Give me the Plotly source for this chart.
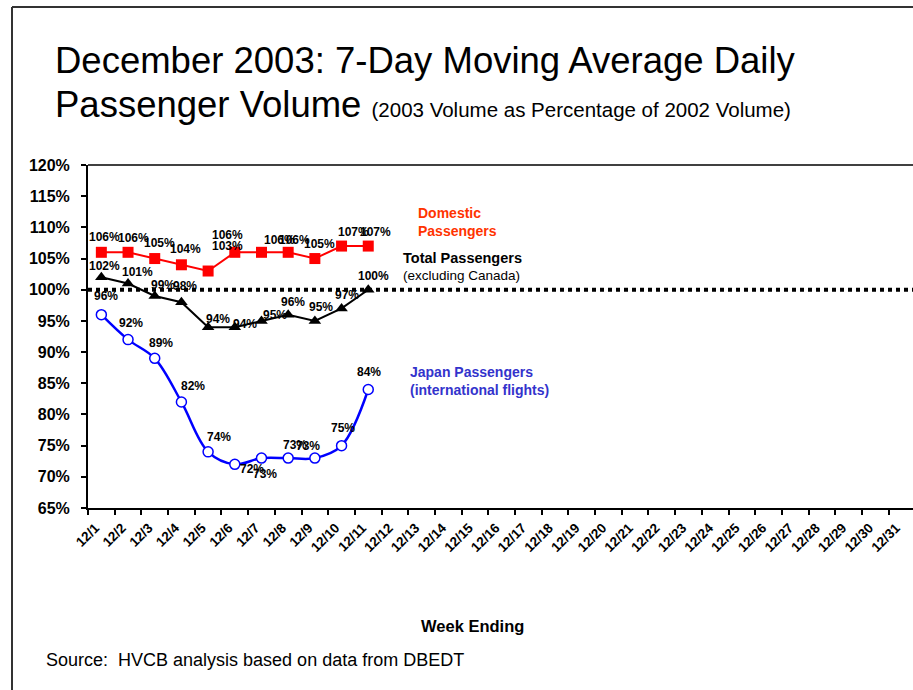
import plotly.graph_objects as go

# ---------------- data ----------------
days = ["12/1", "12/2", "12/3", "12/4", "12/5", "12/6", "12/7", "12/8", "12/9", "12/10",
        "12/11", "12/12", "12/13", "12/14", "12/15", "12/16", "12/17", "12/18", "12/19",
        "12/20", "12/21", "12/22", "12/23", "12/24", "12/25", "12/26", "12/27", "12/28",
        "12/29", "12/30", "12/31"]
data_days = ["12/1", "12/2", "12/3", "12/4", "12/5", "12/6", "12/7", "12/8", "12/9", "12/10", "12/11"]
domestic = [106, 106, 105, 104, 103, 106, 106, 106, 105, 107, 107]
total = [102, 101, 99, 98, 94, 94, 95, 96, 95, 97, 100]
japan = [96, 92, 89, 82, 74, 72, 73, 73, 73, 75, 84]
baseline = 100

# label offsets in pixels (dx right, dy down) relative to each point
dom_off = [(3, -15), (5, -14), (5, -16), (4, -16), (19, -25), (-7, -17), (18, -12), (6, -12), (5, -15), (12, -14), (7, -14)]
tot_off = [(3, -11), (9, -11), (8, -11), (4, -16), (10, -8), (10, -3), (14, -6), (5, -13), (6, -14), (5, -13), (5, -14)]
jap_off = [(5, -19), (3, -17), (6, -15), (12, -16), (11, -15), (17, 5), (4, 16), (7, -13), (-7, -12), (1, -18), (1, -18)]

# ---------------- layout geometry ----------------
W, H = 913, 690
L, T, R, B = 88, 165, 0, 182
PW = W - L - R
PH = H - T - B
CAT_W = 26.69


def xp(px):
    return (px - L) / PW


def yp(py):
    return (H - B - py) / PH


FONT = "Liberation Sans, Arial, Helvetica, sans-serif"

fig = go.Figure()

fig.add_trace(go.Scatter(
    x=data_days, y=japan, mode="lines+markers",
    line=dict(color="#0000FF", width=2.5, shape="spline", smoothing=1.0),
    marker=dict(symbol="circle", size=10, color="white", line=dict(color="#0000FF", width=1.5)),
    hoverinfo="skip", showlegend=False))
fig.add_trace(go.Scatter(
    x=data_days, y=total, mode="lines+markers",
    line=dict(color="black", width=2),
    marker=dict(symbol="triangle-up", size=11, color="black"),
    hoverinfo="skip", showlegend=False))
fig.add_trace(go.Scatter(
    x=data_days, y=domestic, mode="lines+markers",
    line=dict(color="#FF0000", width=2),
    marker=dict(symbol="square", size=11, color="#FF0000"),
    hoverinfo="skip", showlegend=False))

annotations = []
for series, offs in ((domestic, dom_off), (total, tot_off), (japan, jap_off)):
    for d, v, (dx, dy) in zip(data_days, series, offs):
        annotations.append(dict(
            x=d, y=v, xref="x", yref="y", text=f"{v}%", showarrow=False,
            xshift=dx, yshift=-dy, xanchor="center", yanchor="middle",
            font=dict(family=FONT, size=12, color="black", weight="bold")))

# series labels
annotations += [
    dict(x=xp(416), y=yp(222), xref="paper", yref="paper", xanchor="left", yanchor="middle",
         text="Domestic<br>Passengers", align="left", showarrow=False,
         font=dict(family=FONT, size=14, color="#FF3300", weight="bold")),
    dict(x=xp(401), y=yp(258), xref="paper", yref="paper", xanchor="left", yanchor="middle",
         text="Total Passengers", align="left", showarrow=False,
         font=dict(family=FONT, size=14.5, color="black", weight="bold")),
    dict(x=xp(401), y=yp(275), xref="paper", yref="paper", xanchor="left", yanchor="middle",
         text="(excluding Canada)", align="left", showarrow=False,
         font=dict(family=FONT, size=13.5, color="black")),
    dict(x=xp(408), y=yp(381), xref="paper", yref="paper", xanchor="left", yanchor="middle",
         text="Japan Passengers<br>(international flights)", align="left", showarrow=False,
         font=dict(family=FONT, size=14, color="#3333CC", weight="bold")),
]

# title and texts
annotations += [
    dict(x=xp(53), y=yp(60), xref="paper", yref="paper", xanchor="left", yanchor="middle",
         text="December 2003: 7-Day Moving Average Daily", showarrow=False,
         font=dict(family=FONT, size=36.5, color="black")),
    dict(x=xp(53), y=yp(104), xref="paper", yref="paper", xanchor="left", yanchor="middle",
         text="Passenger Volume <span style='font-size:20.5px'>(2003 Volume as Percentage of 2002 Volume)</span>",
         showarrow=False, font=dict(family=FONT, size=36.5, color="black")),
    dict(x=xp(472), y=yp(626), xref="paper", yref="paper", xanchor="center", yanchor="middle",
         text="Week Ending", showarrow=False,
         font=dict(family=FONT, size=16.5, color="black", weight="bold")),
    dict(x=xp(44), y=yp(660), xref="paper", yref="paper", xanchor="left", yanchor="middle",
         text="Source:\u00a0 HVCB analysis based on data from DBEDT", showarrow=False,
         font=dict(family=FONT, size=18, color="black")),
]

shapes = [
    # 100% dotted reference line
    dict(type="line", xref="paper", yref="y", x0=0, x1=1, y0=baseline, y1=baseline,
         line=dict(color="black", width=4, dash="4px,4px"), layer="below"),
    # top border of plot area
    dict(type="line", xref="paper", yref="paper", x0=0, x1=1, y0=1, y1=1,
         line=dict(color="#404040", width=2)),
    # outer slide frame
    dict(type="line", xref="paper", yref="paper", x0=xp(12), x1=xp(913), y0=yp(7), y1=yp(7),
         line=dict(color="#333333", width=2)),
    dict(type="line", xref="paper", yref="paper", x0=xp(12), x1=xp(12), y0=yp(7), y1=yp(690),
         line=dict(color="#333333", width=2)),
]

fig.update_layout(
    width=W, height=H,
    margin=dict(l=L, r=R, t=T, b=B, pad=0),
    paper_bgcolor="white", plot_bgcolor="white",
    showlegend=False,
    annotations=annotations,
    shapes=shapes,
    xaxis=dict(
        type="category", categoryorder="array", categoryarray=days,
        tickvals=days, ticktext=days,
        range=[-0.5, -0.5 + PW / CAT_W],
        tickangle=-45, tickson="boundaries",
        ticks="outside", ticklen=5, tickwidth=1.5, tickcolor="black",
        showline=True, linecolor="black", linewidth=1.5,
        showgrid=False, zeroline=False, automargin=False,
        ticklabelshift=-6, ticklabelstandoff=5,
        tickfont=dict(family=FONT, size=13.5, color="black", weight="bold"),
    ),
    yaxis=dict(
        range=[65, 120], dtick=5, tick0=65, ticksuffix="%",
        ticks="outside", ticklen=5, tickwidth=1.5, tickcolor="black",
        showline=True, linecolor="black", linewidth=2,
        showgrid=False, zeroline=False, automargin=False,
        ticklabelstandoff=8,
        tickfont=dict(family=FONT, size=16, color="black", weight="bold"),
    ),
)

fig.write_html("out.html", config={"displayModeBar": False},
               post_script="document.body.style.margin='0px';")
